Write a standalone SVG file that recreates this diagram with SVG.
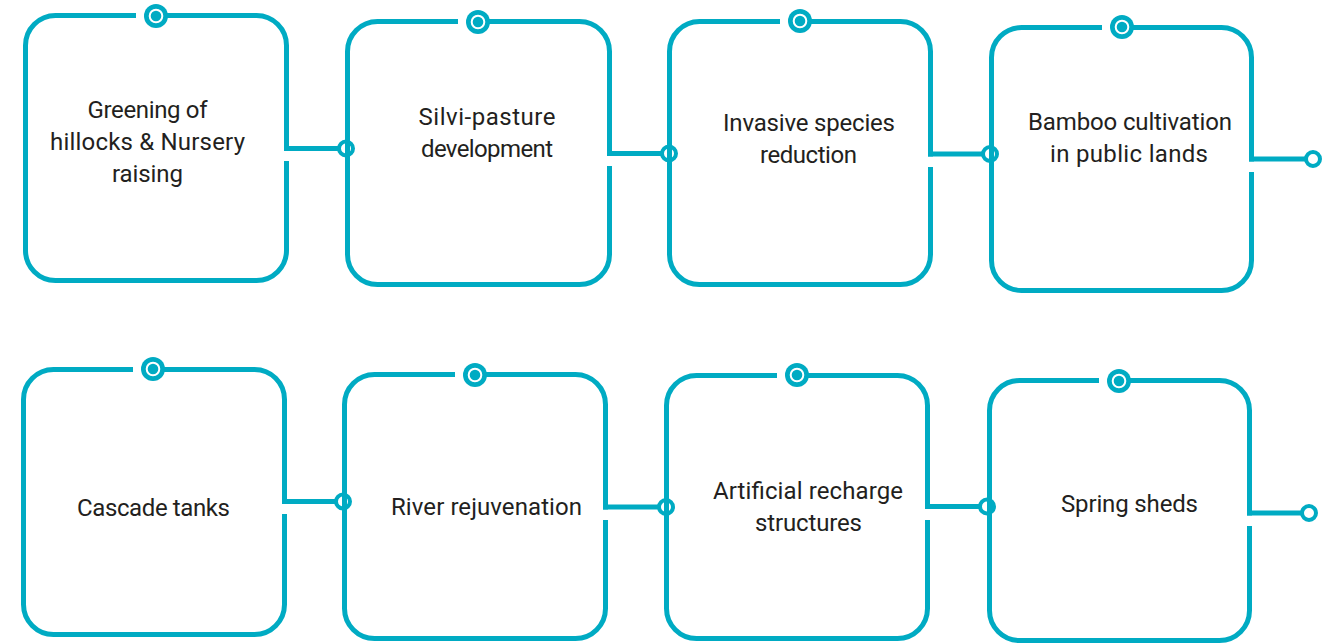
<svg xmlns="http://www.w3.org/2000/svg" width="1337" height="644" viewBox="0 0 1337 644">
<style>
.frame{fill:none;stroke:#00ABC3;stroke-width:5;stroke-linecap:butt}
.conn{fill:none;stroke:#00ABC3;stroke-width:5}
.dot{fill:#00ABC3}
.dotring{fill:none;stroke:#ffffff;stroke-width:2}
.end{fill:#ffffff;stroke:#00ABC3;stroke-width:4}
.lbl{font-family:Roboto,"DejaVu Sans",sans-serif;font-size:24px;fill:#231F20;text-anchor:middle}
</style>
<rect width="1337" height="644" fill="#ffffff"/>
<g id="connectors">
<path class="conn" d="M284,148.5 H346"/>
<path class="conn" d="M607,153.5 H669"/>
<path class="conn" d="M928,154 H990"/>
<path class="conn" d="M1249,159 H1313"/>
<path class="conn" d="M282,501.5 H343"/>
<path class="conn" d="M603,507 H666"/>
<path class="conn" d="M925,506.5 H987"/>
<path class="conn" d="M1247,513 H1309"/>
<circle class="end" cx="346" cy="148.5" r="7"/>
<circle class="end" cx="669" cy="153.5" r="7"/>
<circle class="end" cx="990" cy="154" r="7"/>
<circle class="end" cx="1313" cy="159" r="7"/>
<circle class="end" cx="343" cy="501.5" r="7"/>
<circle class="end" cx="666" cy="507" r="7"/>
<circle class="end" cx="987" cy="506.5" r="7"/>
<circle class="end" cx="1309" cy="513" r="7"/>
</g>
<g id="node1">
<path class="frame" d="M286.5,151 V45.5 A30,30 0 0 0 256.5,15.5 H156 M136,15.5 H55.5 A30,30 0 0 0 25.5,45.5 V250.5 A30,30 0 0 0 55.5,280.5 H256.5 A30,30 0 0 0 286.5,250.5 V161"/>
<circle class="dot" cx="156" cy="16" r="12"/><circle class="dotring" cx="156" cy="16" r="6.3"/>
<text class="lbl" x="147.5" y="118" textLength="120" lengthAdjust="spacing">Greening of</text>
<text class="lbl" x="147.5" y="150" textLength="195" lengthAdjust="spacing">hillocks &amp; Nursery</text>
<text class="lbl" x="147.5" y="182" textLength="71" lengthAdjust="spacing">raising</text>
</g>
<g id="node2">
<path class="frame" d="M609.5,156 V51.5 A30,30 0 0 0 579.5,21.5 H478 M458,21.5 H377.5 A30,30 0 0 0 347.5,51.5 V254.5 A30,30 0 0 0 377.5,284.5 H579.5 A30,30 0 0 0 609.5,254.5 V166"/>
<circle class="dot" cx="478" cy="22" r="12"/><circle class="dotring" cx="478" cy="22" r="6.3"/>
<text class="lbl" x="487" y="125" textLength="137" lengthAdjust="spacing">Silvi-pasture</text>
<text class="lbl" x="487" y="157" textLength="132" lengthAdjust="spacing">development</text>
</g>
<g id="node3">
<path class="frame" d="M930.5,156.5 V51.5 A30,30 0 0 0 900.5,21.5 H800 M780,21.5 H699.5 A30,30 0 0 0 669.5,51.5 V254.5 A30,30 0 0 0 699.5,284.5 H900.5 A30,30 0 0 0 930.5,254.5 V167"/>
<circle class="dot" cx="800" cy="21" r="12"/><circle class="dotring" cx="800" cy="21" r="6.3"/>
<text class="lbl" x="809" y="131" textLength="172" lengthAdjust="spacing">Invasive species</text>
<text class="lbl" x="808.5" y="163" textLength="97" lengthAdjust="spacing">reduction</text>
</g>
<g id="node4">
<path class="frame" d="M1251.5,161.5 V57.5 A30,30 0 0 0 1221.5,27.5 H1122 M1102,27.5 H1021.5 A30,30 0 0 0 991.5,57.5 V260.5 A30,30 0 0 0 1021.5,290.5 H1221.5 A30,30 0 0 0 1251.5,260.5 V172"/>
<circle class="dot" cx="1122" cy="27" r="12"/><circle class="dotring" cx="1122" cy="27" r="6.3"/>
<text class="lbl" x="1130" y="130" textLength="204" lengthAdjust="spacing">Bamboo cultivation</text>
<text class="lbl" x="1129" y="162" textLength="158" lengthAdjust="spacing">in public lands</text>
</g>
<g id="node5">
<path class="frame" d="M284.5,504 V399.5 A30,30 0 0 0 254.5,369.5 H153 M133,369.5 H53.5 A30,30 0 0 0 23.5,399.5 V604.5 A30,30 0 0 0 53.5,634.5 H254.5 A30,30 0 0 0 284.5,604.5 V514"/>
<circle class="dot" cx="153" cy="369" r="12"/><circle class="dotring" cx="153" cy="369" r="6.3"/>
<text class="lbl" x="153.5" y="516" textLength="153" lengthAdjust="spacing">Cascade tanks</text>
</g>
<g id="node6">
<path class="frame" d="M605.5,509.5 V404.5 A30,30 0 0 0 575.5,374.5 H475 M455,374.5 H374.5 A30,30 0 0 0 344.5,404.5 V608.5 A30,30 0 0 0 374.5,638.5 H575.5 A30,30 0 0 0 605.5,608.5 V520"/>
<circle class="dot" cx="475" cy="375" r="12"/><circle class="dotring" cx="475" cy="375" r="6.3"/>
<text class="lbl" x="486.5" y="515" textLength="191" lengthAdjust="spacing">River rejuvenation</text>
</g>
<g id="node7">
<path class="frame" d="M927.5,509 V405.5 A30,30 0 0 0 897.5,375.5 H797 M777,375.5 H696.5 A30,30 0 0 0 666.5,405.5 V608.5 A30,30 0 0 0 696.5,638.5 H897.5 A30,30 0 0 0 927.5,608.5 V520"/>
<circle class="dot" cx="797" cy="375" r="12"/><circle class="dotring" cx="797" cy="375" r="6.3"/>
<text class="lbl" x="808" y="499" textLength="190" lengthAdjust="spacing">Artificial recharge</text>
<text class="lbl" x="808.5" y="531" textLength="107" lengthAdjust="spacing">structures</text>
</g>
<g id="node8">
<path class="frame" d="M1249.5,515.5 V410.5 A30,30 0 0 0 1219.5,380.5 H1119 M1099,380.5 H1019.5 A30,30 0 0 0 989.5,410.5 V610.5 A30,30 0 0 0 1019.5,640.5 H1219.5 A30,30 0 0 0 1249.5,610.5 V526"/>
<circle class="dot" cx="1119" cy="381" r="12"/><circle class="dotring" cx="1119" cy="381" r="6.3"/>
<text class="lbl" x="1129.5" y="512" textLength="137" lengthAdjust="spacing">Spring sheds</text>
</g>
</svg>
